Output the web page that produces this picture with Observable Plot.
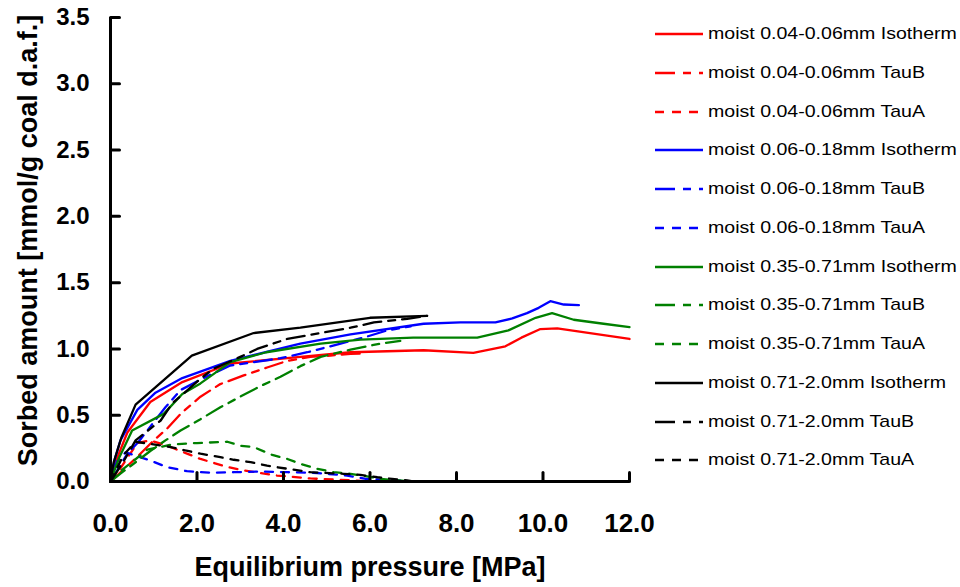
<!DOCTYPE html>
<html><head><meta charset="utf-8">
<script src="https://cdn.jsdelivr.net/npm/d3@7"></script>
<script src="https://cdn.jsdelivr.net/npm/@observablehq/plot@0.6"></script>
<style>
body{margin:0;background:#fff;font-family:"Liberation Sans",Arial,sans-serif;}
#wrap{position:relative;width:960px;height:587px;overflow:hidden;background:#fff;}
#legend{position:absolute;left:0;top:0;}
.row{position:absolute;left:655px;height:20px;display:flex;align-items:center;}
.row span{display:inline-block;font-size:17px;transform:scaleX(1.15);transform-origin:left center;white-space:nowrap;color:#000;margin-left:5px;}
</style></head><body><div id="wrap"><div id="legend"></div></div>
<script>
// ---- data: [pressure MPa, sorbed amount mmol/g] ----
const redIso = [[0,0],[0.12,0.15],[0.39,0.37],[0.92,0.60],[1.66,0.75],[2.77,0.89],[4.39,0.94],[5.55,0.975],[7.24,0.99],[8.39,0.97],[9.13,1.02],[9.50,1.085],[9.94,1.15],[10.33,1.155],[12.0,1.075]];
const redTauB = [[0,0],[0.3,0.09],[0.6,0.18],[1.0,0.31],[1.31,0.40],[1.62,0.51],[2.08,0.64],[2.54,0.735],[3.08,0.80],[3.62,0.86],[4.09,0.91],[4.62,0.94],[5.09,0.95],[5.55,0.963],[5.85,0.965]];
const redTauA = [[0,0],[0.23,0.10],[0.62,0.29],[0.92,0.31],[1.31,0.27],[1.77,0.21],[2.08,0.17],[2.7,0.11],[3.08,0.083],[3.85,0.045],[4.62,0.023],[5.32,0.013],[6.0,0.0]];
const blueIso = [[0,0],[0.1,0.17],[0.23,0.31],[0.62,0.54],[1.04,0.67],[1.66,0.78],[2.77,0.91],[4.39,1.04],[5.55,1.11],[7.24,1.19],[8.09,1.20],[8.9,1.20],[9.29,1.23],[9.63,1.27],[9.9,1.31],[10.17,1.36],[10.48,1.335],[10.83,1.33]];
const blueTauB = [[0,0],[0.39,0.21],[0.65,0.30],[1.27,0.56],[1.62,0.69],[2.12,0.775],[2.77,0.875],[3.31,0.90],[3.93,0.93],[4.55,0.975],[5.32,1.04],[5.9,1.09],[6.4,1.14],[6.94,1.17]];
const blueTauA = [[0,0],[0.15,0.15],[0.35,0.22],[0.92,0.158],[1.31,0.108],[1.77,0.078],[2.31,0.066],[2.85,0.07],[3.47,0.075],[4.09,0.07],[4.78,0.064],[5.47,0.045],[5.9,0.02],[6.63,0.008],[7.0,0.0]];
const greenIso = [[0,0],[0.2,0.18],[0.5,0.385],[1.23,0.51],[1.66,0.66],[2.08,0.74],[2.77,0.90],[3.6,0.975],[4.86,1.04],[5.78,1.07],[7.0,1.085],[8.48,1.085],[9.2,1.14],[9.83,1.235],[10.21,1.27],[10.71,1.22],[11.4,1.19],[12.0,1.165]];
const greenTauB = [[0,0],[0.23,0.06],[0.58,0.145],[0.92,0.23],[1.27,0.31],[1.62,0.385],[2.08,0.47],[2.54,0.56],[3.0,0.64],[3.47,0.72],[3.93,0.79],[4.39,0.87],[4.86,0.94],[5.55,0.995],[6.24,1.04],[6.7,1.06]];
const greenTauA = [[0,0],[0.2,0.07],[0.55,0.16],[0.85,0.24],[1.43,0.28],[2.0,0.29],[2.7,0.30],[3.0,0.27],[3.31,0.26],[3.74,0.20],[4.09,0.17],[4.39,0.133],[4.78,0.096],[5.16,0.07],[5.55,0.058],[5.9,0.04],[6.24,0.02],[6.67,0.008],[7.0,0.0]];
const blackIso = [[0,0],[0.07,0.14],[0.25,0.33],[0.58,0.58],[1.88,0.95],[3.31,1.12],[4.39,1.16],[6.0,1.235],[7.32,1.25]];
const blackTauB = [[0,0],[0.3,0.15],[0.58,0.31],[1.16,0.46],[1.43,0.59],[2.08,0.775],[2.38,0.85],[3.0,0.94],[3.39,1.0],[4.09,1.076],[5.55,1.16],[6.09,1.20],[6.86,1.227],[7.32,1.25]];
const blackTauA = [[0,0],[0.3,0.2],[0.58,0.30],[1.39,0.26],[1.73,0.234],[2.08,0.21],[2.54,0.183],[2.85,0.164],[3.24,0.146],[3.62,0.12],[4.09,0.096],[4.62,0.07],[5.39,0.058],[5.78,0.05],[6.17,0.032],[6.51,0.02],[6.86,0.008],[7.0,0.0]];

const seriesNames = [
  "moist 0.04-0.06mm Isotherm","moist 0.04-0.06mm TauB","moist 0.04-0.06mm TauA",
  "moist 0.06-0.18mm Isotherm","moist 0.06-0.18mm TauB","moist 0.06-0.18mm TauA",
  "moist 0.35-0.71mm Isotherm","moist 0.35-0.71mm TauB","moist 0.35-0.71mm TauA",
  "moist 0.71-2.0mm Isotherm","moist 0.71-2.0mm TauB","moist 0.71-2.0mm TauA"
];
const seriesData = [redIso,redTauB,redTauA,blueIso,blueTauB,blueTauA,greenIso,greenTauB,greenTauA,blackIso,blackTauB,blackTauA];
const seriesColors = ["#ff0000","#ff0000","#ff0000","#0000ff","#0000ff","#0000ff","#008000","#008000","#008000","#000000","#000000","#000000"];
const seriesKinds = ["iso","tauB","tauA","iso","tauB","tauA","iso","tauB","tauA","iso","tauB","tauA"];

const xTicks = [0,2,4,6,8,10,12];
const yTicks = [0,0.5,1,1.5,2,2.5,3,3.5];
const xTitle = "Equilibrium pressure [MPa]";
const yTitle = "Sorbed amount [mmol/g coal d.a.f.]";

const chartDash = {iso: null, tauB: "18,7,7,7", tauA: "8,8"};
const legendDash = {iso: null, tauB: "20,8,8,8", tauA: "9,8"};

const tickUp = {draw(ctx, l){ ctx.moveTo(0,0); ctx.lineTo(0,-l); }};

const lineMarks = seriesData.map((d,i) => Plot.line(d, {
  x: p => p[0], y: p => p[1],
  stroke: seriesColors[i], strokeWidth: 2.3,
  strokeDasharray: chartDash[seriesKinds[i]] || undefined,
  strokeLinejoin: "round"
}));

const chart = Plot.plot({
  width: 960, height: 587,
  marginLeft: 110, marginRight: 331, marginTop: 17, marginBottom: 106,
  style: {background: "white", color: "black", fontFamily: "'Liberation Sans', Arial, sans-serif"},
  x: {domain: [0, 12]},
  y: {domain: [0, 3.5]},
  marks: [
    ...lineMarks,
    Plot.ruleY([0], {stroke: "#000", strokeWidth: 3}),
    Plot.ruleX([0], {stroke: "#000", strokeWidth: 3}),
    Plot.vector(xTicks, {x: d => d, y: 0, length: 9, rotate: 0, anchor: "start", shape: tickUp, stroke: "#000", strokeWidth: 3}),
    Plot.vector(yTicks, {x: 0, y: d => d, length: 9, rotate: 90, anchor: "start", shape: tickUp, stroke: "#000", strokeWidth: 3}),
    Plot.axisX({ticks: xTicks, tickSize: 0, tickPadding: 32, tickFormat: d => d.toFixed(1), fontSize: 26, fontWeight: "bold", label: null, fill: "#000"}),
    Plot.axisY({ticks: yTicks, tickSize: 0, tickPadding: 21, tickFormat: d => d.toFixed(1), fontSize: 24, fontWeight: "bold", label: null, fill: "#000"}),
    Plot.text([xTitle], {text: d => d, frameAnchor: "bottom", dy: 94, fontSize: 27, fontWeight: "bold", fill: "#000"}),
    Plot.text([yTitle], {text: d => d, frameAnchor: "left", textAnchor: "middle", dx: -82, dy: -9, rotate: -90, fontSize: 27, fontWeight: "bold", fill: "#000"})
  ]
});
document.getElementById("wrap").prepend(chart);

// ---- legend ----
const legend = document.getElementById("legend");
seriesNames.forEach((name, i) => {
  const row = document.createElement("div");
  row.className = "row";
  row.style.top = (34 + i * 38.75 - 10) + "px";
  const dash = legendDash[seriesKinds[i]];
  row.innerHTML = `<svg width="48" height="8"><line x1="0" y1="4" x2="48" y2="4" stroke="${seriesColors[i]}" stroke-width="2.6" ${dash ? `stroke-dasharray="${dash}"` : ""}/></svg><span>${name}</span>`;
  legend.appendChild(row);
});
</script></body></html>
